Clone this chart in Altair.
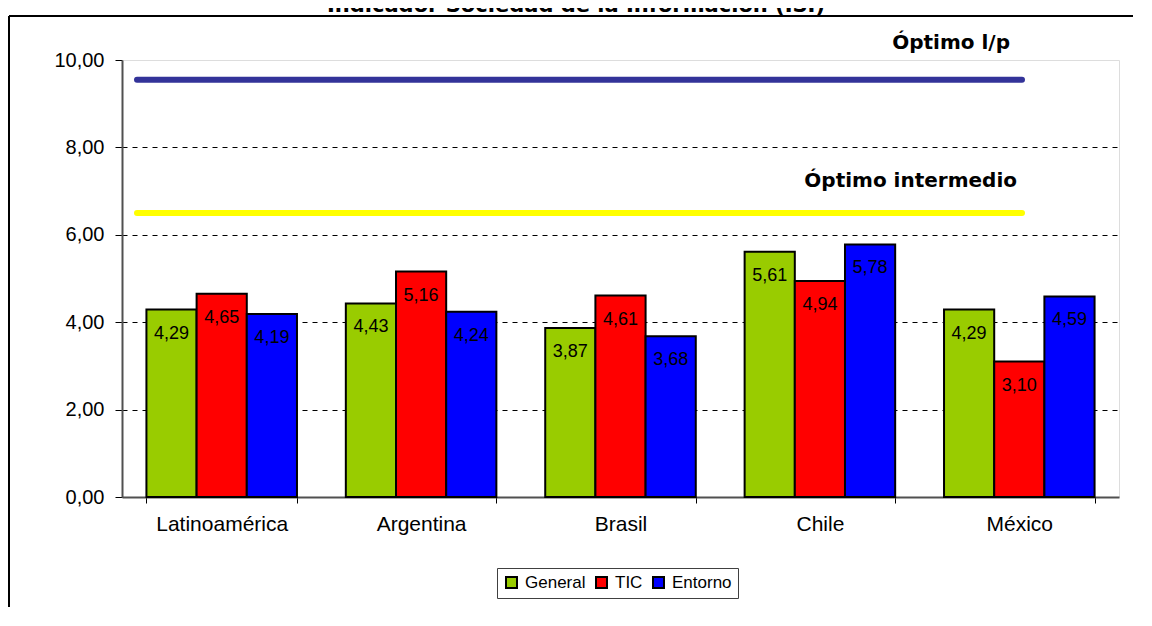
import altair as alt
import pandas as pd

categories = ["Latinoamérica", "Argentina", "Brasil", "Chile", "México"]
series = ["General", "TIC", "Entorno"]
general = [4.29, 4.43, 3.87, 5.61, 4.29]
tic = [4.65, 5.16, 4.61, 4.94, 3.10]
entorno = [4.19, 4.24, 3.68, 5.78, 4.59]
colors = ["#99CC00", "#FF0000", "#0000FF"]

opt_values = [9.55, 6.5]
opt_labels = ["Óptimo l/p", "Óptimo intermedio"]
opt_colors = ["#333399", "#FFFF00"]

title_text = "Indicador Sociedad de la Información (ISI)"
y_ticks = [0, 2, 4, 6, 8, 10]

FONT = "Liberation Sans"
BOLD_FONT = "DejaVu Sans"

rows = []
for s, vals in zip(series, [general, tic, entorno]):
    for c, v in zip(categories, vals):
        rows.append({"cat": c, "serie": s, "valor": v,
                     "etiqueta": f"{v:.2f}".replace(".", ",")})
df = pd.DataFrame(rows)

opt_df = pd.DataFrame({"valor": opt_values, "label": opt_labels, "color": opt_colors})
one = pd.DataFrame({"t": [title_text]})

x_enc = alt.X("cat:N", sort=categories, title=None,
              scale=alt.Scale(paddingInner=0.245, paddingOuter=0.1225),
              axis=alt.Axis(labelFontSize=21, labelFont=FONT, labelColor="black",
                            labelAngle=0, tickBand="extent", tickSize=6,
                            tickColor="black", domainColor="#505050", domainWidth=2,
                            labelPadding=10, grid=False))
y_enc = alt.Y("valor:Q", title=None,
              scale=alt.Scale(domain=[0, 10], nice=False),
              axis=alt.Axis(values=y_ticks,
                            labelExpr="replace(format(datum.value, '.2f'), '.', ',')",
                            labelFontSize=20, labelFont=FONT, labelColor="black",
                            tickSize=7, tickColor="black", domainColor="#505050",
                            domainWidth=2, labelPadding=11,
                            grid=True, gridColor="black", gridDash=[5, 5],
                            gridOpacity={"condition": {"test": "datum.value == 0 || datum.value == 10", "value": 0}, "value": 1}))
xoff = alt.XOffset("serie:N", sort=series,
                   scale=alt.Scale(paddingInner=0, paddingOuter=0))

bars = alt.Chart(df).mark_bar(stroke="black", strokeWidth=2).encode(
    x=x_enc, y=y_enc, xOffset=xoff,
    color=alt.Color("serie:N", scale=alt.Scale(domain=series, range=colors),
                    legend=alt.Legend(title=None, orient="none", legendX=375, legendY=508,
                                      direction="horizontal", strokeColor="#404040",
                                      fillColor="white", padding=6,
                                      symbolType="square", symbolSize=121,
                                      symbolStrokeColor="black", symbolStrokeWidth=2,
                                      labelFontSize=17, labelFont=FONT, labelColor="black",
                                      columnPadding=6, labelOffset=5)),
)

labels = alt.Chart(df).mark_text(baseline="middle", dy=24, fontSize=18, font=FONT,
                                 color="black").encode(
    x=alt.X("cat:N", sort=categories), y="valor:Q", xOffset=xoff, text="etiqueta:N"
)

opt_rule = alt.Chart(opt_df).mark_rule(strokeWidth=6, strokeCap="round").encode(
    y="valor:Q", x=alt.value(15), x2=alt.value(900),
    color=alt.Color("color:N", scale=None, legend=None)
)
opt_t1 = alt.Chart(opt_df).transform_filter(f"datum.label == '{opt_labels[0]}'").mark_text(
    align="right", baseline="middle", dy=-37, fontSize=20, fontWeight="bold", font=BOLD_FONT,
    color="black").encode(y="valor:Q", x=alt.value(888), text="label:N")
opt_t2 = alt.Chart(opt_df).transform_filter(f"datum.label == '{opt_labels[1]}'").mark_text(
    align="right", baseline="middle", dy=-32, fontSize=20, fontWeight="bold", font=BOLD_FONT,
    color="black").encode(y="valor:Q", x=alt.value(895), text="label:N")

title_mark = alt.Chart(one).mark_text(align="center", baseline="alphabetic", fontSize=21,
                                      fontWeight="bold", font=BOLD_FONT, color="black").encode(
    x=alt.value(454), y=alt.value(-48), text="t:N")
frame_top = alt.Chart(one).mark_rule(color="black", strokeWidth=2).encode(
    x=alt.value(-113), x2=alt.value(1011), y=alt.value(-44))
frame_left = alt.Chart(one).mark_rule(color="black", strokeWidth=2).encode(
    x=alt.value(-113), y=alt.value(-44), y2=alt.value(560))

chart = alt.layer(bars, labels, opt_rule, opt_t1, opt_t2, title_mark, frame_top, frame_left).properties(
    width=997, height=437,
    autosize=alt.AutoSizeParams(type="none"),
    padding={"left": 114, "top": 52, "right": 14, "bottom": 110},
).configure_view(stroke="#808080", strokeWidth=2).configure(background="white")

chart.save("out.html", embed_options={"renderer": "svg", "actions": False})
